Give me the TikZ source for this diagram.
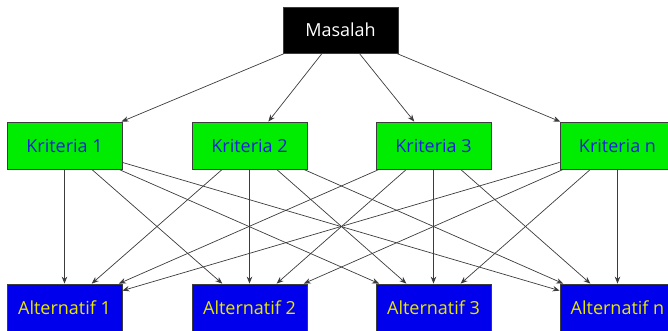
\documentclass[tikz,border=0pt]{standalone}
\usepackage{fontspec}
\setmainfont{Open Sans}
\usetikzlibrary{arrows.meta}
\definecolor{boxgreen}{RGB}{0,236,0}
\definecolor{boxblue}{RGB}{0,0,236}
\definecolor{txtblue}{RGB}{30,30,220}
\definecolor{txtyellow}{RGB}{232,232,0}
\definecolor{edgegray}{RGB}{60,60,60}
\tikzset{
  x=1pt, y=1pt,
  box/.style={draw=edgegray, line width=0.8pt, minimum width=115pt, minimum height=47pt,
    inner sep=0pt, font=\fontsize{18}{21}\selectfont},
  goal/.style={box, fill=black, text=white, minimum height=46pt},
  crit/.style={box, fill=boxgreen, text=txtblue},
  alt/.style={box, fill=boxblue, text=txtyellow},
  link/.style={draw=edgegray, line width=0.7pt, -{Stealth[length=7pt,width=5.5pt]}}
}
\begin{document}
\begin{tikzpicture}
\useasboundingbox (0,0) rectangle (668,-330);
% goal
\node[goal] (m) at (340.5,-30) {Masalah};
% criteria row
\node[crit] (k1) at (64.5,-145.5) {Kriteria 1};
\node[crit] (k2) at (249.5,-145.5) {Kriteria 2};
\node[crit] (k3) at (433.5,-145.5) {Kriteria 3};
\node[crit] (k4) at (617.5,-145.5) {Kriteria n};
% alternatives row
\node[alt] (a1) at (64.5,-307.5) {Alternatif 1};
\node[alt] (a2) at (249.5,-307.5) {Alternatif 2};
\node[alt] (a3) at (433.5,-307.5) {Alternatif 3};
\node[alt] (a4) at (617.5,-307.5) {Alternatif n};
% goal to each criterion
\foreach \k in {k1,k2,k3,k4}
  \draw[link] (m) -- (\k);
% every criterion to every alternative
\foreach \k in {k1,k2,k3,k4}
  \foreach \a in {a1,a2,a3,a4}
    \draw[link] (\k) -- (\a);
\end{tikzpicture}
\end{document}
